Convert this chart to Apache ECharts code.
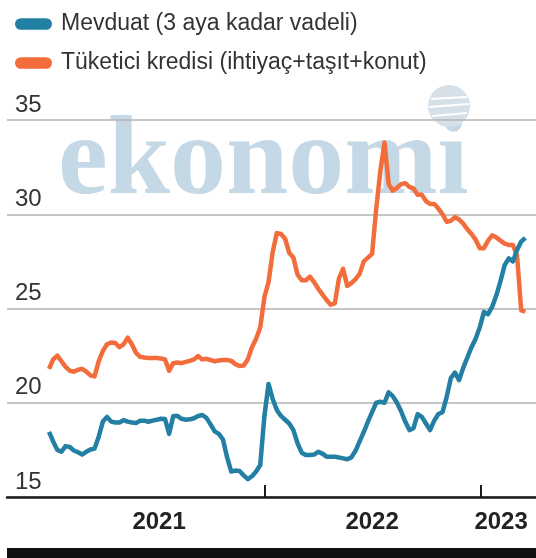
<!DOCTYPE html>
<html>
<head>
<meta charset="utf-8">
<script src="https://cdn.jsdelivr.net/npm/echarts@6/dist/echarts.min.js"></script>
<style>
html,body{margin:0;padding:0;background:#fff;}
#chart{width:536px;height:558px;}
</style>
</head>
<body>
<div id="chart"></div>
<script>
// Series names (legend)
const seriesNames = ['Mevduat (3 aya kadar vadeli)', 'Tüketici kredisi (ihtiyaç+taşıt+konut)'];
// Weekly values starting 1 Jan 2021
const mevduat = [
  18.46, 17.95, 17.5, 17.4, 17.7, 17.65, 17.47, 17.37, 17.25, 17.4,
  17.52, 17.57, 18.2, 19.0, 19.25, 19.0, 18.95, 18.95, 19.08, 19.0,
  18.95, 18.93, 19.04, 19.05, 18.99, 19.05, 19.1, 19.15, 19.14, 18.35,
  19.3, 19.3, 19.15, 19.1, 19.12, 19.18, 19.3, 19.35, 19.2, 18.85,
  18.48, 18.35, 18.05, 17.1, 16.35, 16.4, 16.38, 16.15, 15.95, 16.1,
  16.35, 16.7, 19.3, 21.0, 20.2, 19.62, 19.3, 19.1, 18.9, 18.55,
  17.85, 17.35, 17.23, 17.23, 17.25, 17.4, 17.3, 17.14, 17.14, 17.13,
  17.1, 17.05, 17.0, 17.1, 17.45, 17.95, 18.45, 19.0, 19.5, 20.0,
  20.05, 20.0, 20.55, 20.35, 20.0, 19.55, 19.0, 18.55, 18.65, 19.4,
  19.25, 18.9, 18.55, 19.05, 19.4, 19.5, 20.3, 21.3, 21.6, 21.2,
  21.85, 22.4, 22.95, 23.4, 24.0, 24.82, 24.7, 25.1, 25.7, 26.45,
  27.3, 27.66, 27.5, 28.1, 28.55, 28.75
];
const tuketici = [
  21.8, 22.3, 22.5, 22.2, 21.9, 21.7, 21.65, 21.75, 21.8, 21.65,
  21.45, 21.4, 22.2, 22.75, 23.1, 23.2, 23.17, 22.95, 23.1, 23.45,
  23.1, 22.65, 22.44, 22.4, 22.37, 22.37, 22.37, 22.35, 22.3, 21.7,
  22.1, 22.13, 22.1, 22.17, 22.22, 22.3, 22.48, 22.3, 22.33, 22.27,
  22.2, 22.24, 22.27, 22.27, 22.22, 22.05, 21.95, 21.98, 22.3, 22.95,
  23.4, 24.0, 25.6, 26.4, 28.0, 29.0, 28.95, 28.7, 27.95, 27.7,
  26.8, 26.5, 26.5, 26.69, 26.4, 26.05, 25.75, 25.45, 25.2, 25.27,
  26.6, 27.1, 26.2, 26.35, 26.55, 26.85, 27.5, 27.7, 27.9, 30.3,
  32.3, 33.8, 31.6, 31.25, 31.4, 31.6, 31.65, 31.45, 31.37, 31.03,
  31.03, 30.7, 30.55, 30.55, 30.3, 30.0, 29.6, 29.65, 29.85, 29.72,
  29.5, 29.2, 28.95, 28.65, 28.2, 28.2, 28.6, 28.88, 28.77, 28.6,
  28.44, 28.37, 28.37, 27.8, 24.9, 24.83
];
// Tick labels
const yearLabels = ['2021', '2022', '2023'];
const yTicks = [15, 20, 25, 30, 35];

const DAY = 864e5;
const start = Date.UTC(2021, 0, 1);
const weekDates = mevduat.map((_, i) => start + i * 7 * DAY);
const yearTicks = [Date.UTC(2022, 0, 1), Date.UTC(2023, 0, 1)];
const yearLabelPos = [start + 186 * DAY, start + 546 * DAY, start + 764 * DAY];

const FONT = "'Liberation Sans', Arial, sans-serif";
const chart = echarts.init(document.getElementById('chart'), null, {renderer: 'canvas'});
const pill = 'path://M6,0 H32 A6,6 0 0 1 32,12 H6 A6,6 0 0 1 6,0 Z';

chart.setOption({
  animation: false,
  backgroundColor: '#ffffff',
  color: ['#237fa3', '#f26c3c'],
  legend: {
    orient: 'vertical',
    left: 10, top: 6,
    itemWidth: 37, itemHeight: 12,
    itemGap: 13,
    icon: pill,
    textStyle: {fontFamily: FONT, fontSize: 23, color: '#333', lineHeight: 26, padding: [0, 0, 0, 4]},
    data: seriesNames
  },
  grid: {left: 7, right: 0, top: 120, bottom: 61},
  xAxis: {
    type: 'value',
    min: start - 71 * DAY,
    max: start + 823 * DAY,
    axisLine: {show: true, onZero: false, lineStyle: {color: '#1a1a1a', width: 2.5}},
    axisTick: {show: true, inside: true, length: 12, lineStyle: {color: '#1a1a1a', width: 2}, customValues: yearTicks},
    axisLabel: {
      show: true, margin: 13,
      fontFamily: FONT, fontSize: 24, fontWeight: 'bold', color: '#222',
      customValues: yearLabelPos,
      formatter: function (v) {
        const i = yearLabelPos.findIndex(p => Math.abs(p - v) < DAY);
        return i >= 0 ? yearLabels[i] : '';
      }
    },
    splitLine: {show: false}
  },
  yAxis: {
    type: 'value',
    min: yTicks[0], max: yTicks[yTicks.length - 1], interval: 5,
    axisLine: {show: false},
    axisTick: {show: false},
    axisLabel: {
      inside: true, margin: 8, verticalAlign: 'bottom', padding: [0, 0, 3, 0],
      fontFamily: FONT, fontSize: 24, color: '#333'
    },
    splitLine: {show: true, lineStyle: {color: '#b3b3b3', width: 1.5}}
  },
  graphic: [
    {type: 'text', z: -10, left: 58, top: 108, style: {text: 'ekonomi', font: 'bold 112px "Liberation Serif", serif', fill: '#c5d8e6'}},
    {type: 'circle', z: -10, shape: {cx: 449, cy: 106, r: 21}, style: {fill: '#d6e0e9'}},
    {type: 'line', z: -9, shape: {x1: 431, y1: 99, x2: 467, y2: 97}, style: {stroke: '#fff', lineWidth: 2}},
    {type: 'line', z: -9, shape: {x1: 429, y1: 107, x2: 469, y2: 104}, style: {stroke: '#fff', lineWidth: 2}},
    {type: 'line', z: -9, shape: {x1: 432, y1: 116, x2: 467, y2: 113}, style: {stroke: '#fff', lineWidth: 2}},
    {type: 'rect', shape: {x: 7, y: 548, width: 529, height: 10}, style: {fill: '#111'}}
  ],
  series: [
    {
      name: seriesNames[0], type: 'line', showSymbol: false, symbol: 'none',
      lineStyle: {width: 4.5, color: '#237fa3', join: 'round'},
      data: weekDates.map((d, i) => [d, mevduat[i]]),
      z: 3
    },
    {
      name: seriesNames[1], type: 'line', showSymbol: false, symbol: 'none',
      lineStyle: {width: 4.5, color: '#f26c3c', join: 'round'},
      data: weekDates.map((d, i) => [d, tuketici[i]]),
      z: 2
    }
  ]
});
</script>
</body>
</html>
